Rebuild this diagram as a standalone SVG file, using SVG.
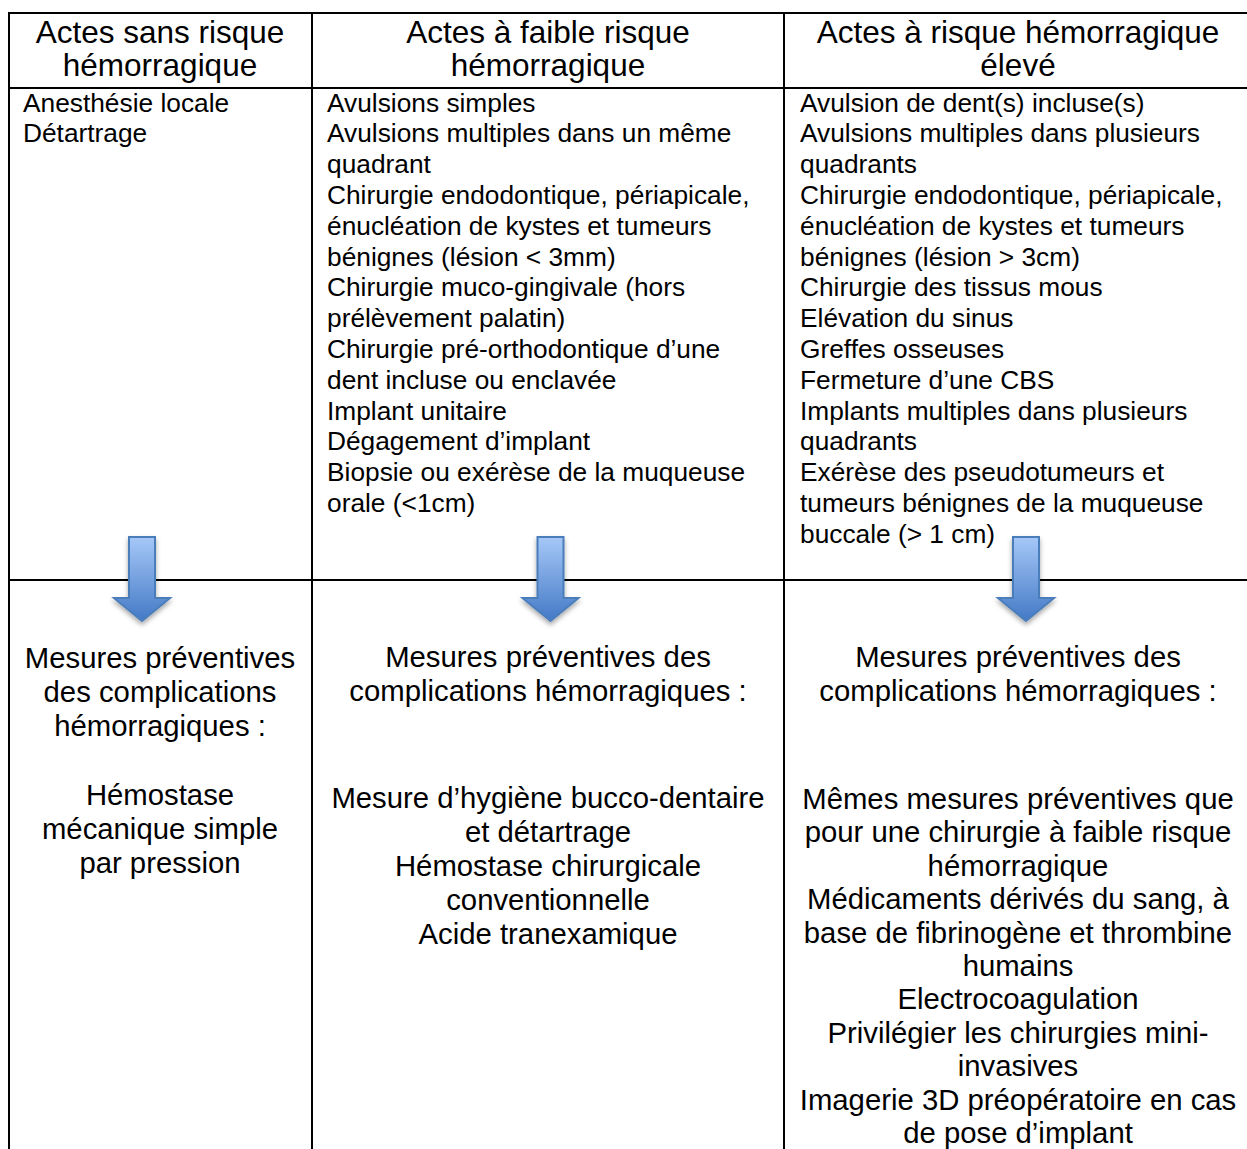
<svg xmlns="http://www.w3.org/2000/svg" width="1247" height="1149" viewBox="0 0 1247 1149">
<style>
text{font-family:"Liberation Sans",Arial,sans-serif;fill:#000}
.h{font-size:31.5px;text-anchor:middle}
.b{font-size:26.3px}
.m{font-size:29.3px;text-anchor:middle}
.grid line{stroke:#000;stroke-width:2}
.arr{fill:url(#ag);stroke:#4a7ebb;stroke-width:2;filter:url(#sh)}
</style>
<defs>
<linearGradient id="ag" x1="0" y1="0" x2="0" y2="1">
<stop offset="0" stop-color="#a6c8f8"/>
<stop offset="1" stop-color="#4479c6"/>
</linearGradient>
<filter id="sh" x="-50%" y="-20%" width="200%" height="150%">
<feDropShadow dx="0" dy="3" stdDeviation="2.5" flood-color="#000" flood-opacity="0.35"/>
</filter>
</defs>
<rect width="1247" height="1149" fill="#fff"/>
<g class="grid" id="grid">
<line x1="9" y1="13" x2="1247" y2="13"/>
<line x1="9" y1="88" x2="1247" y2="88"/>
<line x1="9" y1="580" x2="1247" y2="580"/>
<line x1="9" y1="12" x2="9" y2="1149"/>
<line x1="312" y1="12" x2="312" y2="1149"/>
<line x1="784" y1="12" x2="784" y2="1149"/>
</g>
<g id="header1"><text class="h" x="160" y="43">Actes sans risque</text><text class="h" x="160" y="75.5">hémorragique</text></g>
<g id="header2"><text class="h" x="548" y="43">Actes à faible risque</text><text class="h" x="548" y="75.5">hémorragique</text></g>
<g id="header3"><text class="h" x="1018" y="43">Actes à risque hémorragique</text><text class="h" x="1018" y="75.5">élevé</text></g>
<g id="actes1">
<text class="b" x="23" y="111.5">Anesthésie locale</text>
<text class="b" x="23" y="142.3">Détartrage</text>
</g>
<g id="actes2">
<text class="b" x="327" y="111.5">Avulsions simples</text>
<text class="b" x="327" y="142.3">Avulsions multiples dans un même</text>
<text class="b" x="327" y="173.1">quadrant</text>
<text class="b" x="327" y="203.9">Chirurgie endodontique, périapicale,</text>
<text class="b" x="327" y="234.7">énucléation de kystes et tumeurs</text>
<text class="b" x="327" y="265.5">bénignes (lésion &lt; 3mm)</text>
<text class="b" x="327" y="296.3">Chirurgie muco-gingivale (hors</text>
<text class="b" x="327" y="327.1">prélèvement palatin)</text>
<text class="b" x="327" y="357.9">Chirurgie pré-orthodontique d’une</text>
<text class="b" x="327" y="388.7">dent incluse ou enclavée</text>
<text class="b" x="327" y="419.5">Implant unitaire</text>
<text class="b" x="327" y="450.3">Dégagement d’implant</text>
<text class="b" x="327" y="481.1">Biopsie ou exérèse de la muqueuse</text>
<text class="b" x="327" y="511.9">orale (&lt;1cm)</text>
</g>
<g id="actes3">
<text class="b" x="800" y="111.5">Avulsion de dent(s) incluse(s)</text>
<text class="b" x="800" y="142.3">Avulsions multiples dans plusieurs</text>
<text class="b" x="800" y="173.1">quadrants</text>
<text class="b" x="800" y="203.9">Chirurgie endodontique, périapicale,</text>
<text class="b" x="800" y="234.7">énucléation de kystes et tumeurs</text>
<text class="b" x="800" y="265.5">bénignes (lésion &gt; 3cm)</text>
<text class="b" x="800" y="296.3">Chirurgie des tissus mous</text>
<text class="b" x="800" y="327.1">Elévation du sinus</text>
<text class="b" x="800" y="357.9">Greffes osseuses</text>
<text class="b" x="800" y="388.7">Fermeture d’une CBS</text>
<text class="b" x="800" y="419.5">Implants multiples dans plusieurs</text>
<text class="b" x="800" y="450.3">quadrants</text>
<text class="b" x="800" y="481.1">Exérèse des pseudotumeurs et</text>
<text class="b" x="800" y="511.9">tumeurs bénignes de la muqueuse</text>
<text class="b" x="800" y="542.7">buccale (&gt; 1 cm)</text>
</g>
<g id="mesures1">
<text class="m" x="160" y="668">Mesures préventives</text>
<text class="m" x="160" y="702">des complications</text>
<text class="m" x="160" y="736">hémorragiques :</text>
<text class="m" x="160" y="805">Hémostase</text>
<text class="m" x="160" y="839">mécanique simple</text>
<text class="m" x="160" y="873">par pression</text>
</g>
<g id="mesures2">
<text class="m" x="548" y="667">Mesures préventives des</text>
<text class="m" x="548" y="701">complications hémorragiques :</text>
<text class="m" x="548" y="808">Mesure d’hygiène bucco-dentaire</text>
<text class="m" x="548" y="842">et détartrage</text>
<text class="m" x="548" y="876">Hémostase chirurgicale</text>
<text class="m" x="548" y="910">conventionnelle</text>
<text class="m" x="548" y="944">Acide tranexamique</text>
</g>
<g id="mesures3">
<text class="m" x="1018" y="667">Mesures préventives des</text>
<text class="m" x="1018" y="701">complications hémorragiques :</text>
<text class="m" x="1018" y="809">Mêmes mesures préventives que</text>
<text class="m" x="1018" y="842.4">pour une chirurgie à faible risque</text>
<text class="m" x="1018" y="875.8">hémorragique</text>
<text class="m" x="1018" y="909.2">Médicaments dérivés du sang, à</text>
<text class="m" x="1018" y="942.6">base de fibrinogène et thrombine</text>
<text class="m" x="1018" y="976">humains</text>
<text class="m" x="1018" y="1009.4">Electrocoagulation</text>
<text class="m" x="1018" y="1042.8">Privilégier les chirurgies mini-</text>
<text class="m" x="1018" y="1076.2">invasives</text>
<text class="m" x="1018" y="1109.6">Imagerie 3D préopératoire en cas</text>
<text class="m" x="1018" y="1143">de pose d’implant</text>
</g>
<g id="connectors">
<path class="arr" d="M129,537 H155 V598 H170 L142,621 L114,598 H129 Z"/>
<path class="arr" d="M537.5,537 H563.5 V598 H578.5 L550.5,621 L522.5,598 H537.5 Z"/>
<path class="arr" d="M1013,537 H1039 V598 H1054 L1026,621 L998,598 H1013 Z"/>
</g>
</svg>
